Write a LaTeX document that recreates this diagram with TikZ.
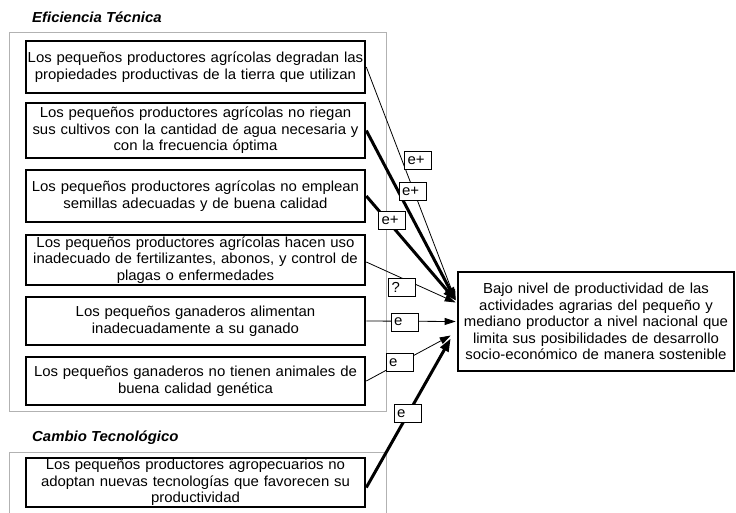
\documentclass[tikz,border=0pt]{standalone}
\usepackage{fontspec}
\setmainfont[FakeStretch=1.03]{Liberation Sans}
\usetikzlibrary{arrows.meta,positioning}
\tikzset{
  cbox/.style={draw=black, line width=2.6pt, fill=white, align=center, inner sep=0pt,
    font=\fontsize{14.5}{16.5}\selectfont, text width=#1},
  cbox/.default=338pt,
  grp/.style={draw=black!30, line width=1pt},
  ttl/.style={anchor=west, font=\fontsize{14.5}{16}\selectfont\bfseries\itshape, inner sep=0pt},
  lbl/.style={draw=black, line width=0.7pt, fill=white, minimum height=18pt, text width=21pt,
    align=left, inner sep=3pt, font=\fontsize{14.5}{15}\selectfont},
  thin/.style={line width=0.8pt, -{Triangle[length=11pt,width=7pt]}},
  thick/.style={line width=3pt, -{Triangle[length=13pt,width=9pt]}}
}
\begin{document}
\begin{tikzpicture}[x=1pt,y=-1pt]
\useasboundingbox (0,0) rectangle (736,512);
% group frames
\draw[grp] (9,32) rectangle (386,411);
\draw[grp] (9,520) -- (9,452) -- (386,452) -- (386,520);
\node[ttl] (t1) at (32,17) {Eficiencia Técnica};
\node[ttl] (t2) at (32,438) {Cambio Tecnológico};
% cause boxes
\node[cbox, minimum width=339pt, minimum height=52pt] (b1) at (195.5,67)
  {Los pequeños productores agrícolas degradan las\\propiedades productivas de la tierra que utilizan};
\node[cbox, minimum width=339pt, minimum height=55pt] (b2) at (195.5,130.5)
  {Los pequeños productores agrícolas no riegan\\sus cultivos con la cantidad de agua necesaria y\\con la frecuencia óptima};
\node[cbox, minimum width=339pt, minimum height=52pt] (b3) at (195.5,196)
  {Los pequeños productores agrícolas no emplean\\semillas adecuadas y de buena calidad};
\node[cbox, minimum width=339pt, minimum height=50pt] (b4) at (195.5,260)
  {Los pequeños productores agrícolas hacen uso\\inadecuado de fertilizantes, abonos, y control de\\plagas o enfermedades};
\node[cbox, minimum width=339pt, minimum height=48pt] (b5) at (195.5,321)
  {Los pequeños ganaderos alimentan\\inadecuadamente a su ganado};
\node[cbox, minimum width=339pt, minimum height=48pt] (b6) at (195.5,381)
  {Los pequeños ganaderos no tienen animales de\\buena calidad genética};
\node[cbox, minimum width=339pt, minimum height=49pt] (b7) at (195.5,482.5)
  {Los pequeños productores agropecuarios no\\adoptan nuevas tecnologías que favorecen su\\productividad};
% effect box
\node[cbox=272pt, minimum width=276pt, minimum height=99pt] (tg) at (596,321.5)
  {Bajo nivel de productividad de las\\actividades agrarias del pequeño y\\mediano productor a nivel nacional que\\limita sus posibilidades de desarrollo\\socio-económico de manera sostenible};
% connectors
\draw[thin] (b1.east) -- ([xshift=-1pt,yshift=21pt]tg.west);
\draw[thick] (b2.east) -- ([xshift=-1pt,yshift=21pt]tg.west);
\draw[thick] (b3.east) -- ([xshift=-1pt,yshift=21pt]tg.west);
\draw[thin] ([yshift=-2pt]b4.east) -- ([xshift=-1pt,yshift=19pt]tg.west);
\draw[thin] (b5.east) -- ([xshift=-1pt]tg.west);
\draw[thin] (b6.east) -- ([xshift=-6pt,yshift=-14pt]tg.west);
\draw[thick] ([yshift=-5pt]b7.east) -- ([xshift=-6pt,yshift=-17pt]tg.west);
% polarity labels
\node[lbl] (l1) at (418,160) {e+};
\node[lbl] (l2) at (412.5,191.5) {e+};
\node[lbl] (l3) at (392,220) {e+};
\node[lbl] (l4) at (402,287) {?};
\node[lbl] (l5) at (404.5,322) {e};
\node[lbl] (l6) at (399.5,362.5) {e};
\node[lbl] (l7) at (407.5,413.5) {e};
\end{tikzpicture}
\end{document}
